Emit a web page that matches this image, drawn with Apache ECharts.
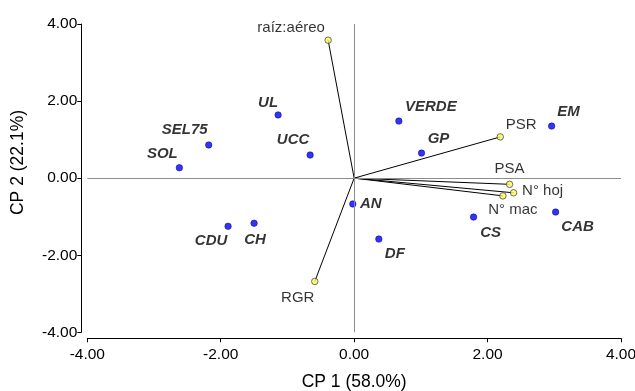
<!DOCTYPE html>
<html>
<head>
<meta charset="utf-8">
<script src="https://cdn.jsdelivr.net/npm/echarts@6/dist/echarts.min.js"></script>
<style>
  html, body { margin: 0; padding: 0; background: #ffffff; }
  #chart { width: 635px; height: 391px; }
</style>
</head>
<body>
<div id="chart"></div>
<script>
// Observation (genotype) scores on the first two principal components
const obsNames = ['SOL', 'SEL75', 'UL', 'UCC', 'VERDE', 'GP', 'EM', 'CDU', 'CH', 'AN', 'DF', 'CS', 'CAB'];
const obsCP1 = [-2.62, -2.18, -1.14, -0.66, 0.67, 1.01, 2.96, -1.89, -1.50, -0.02, 0.37, 1.79, 3.02];
const obsCP2 = [0.27, 0.86, 1.64, 0.60, 1.48, 0.65, 1.35, -1.25, -1.17, -0.67, -1.58, -1.01, -0.88];

// Variable loadings (drawn as vectors from the origin)
const varNames = ['raíz:aéreo', 'PSR', 'PSA', 'N° hoj', 'N° mac', 'RGR'];
const varCP1 = [-0.39, 2.19, 2.33, 2.39, 2.23, -0.59];
const varCP2 = [3.58, 1.07, -0.16, -0.38, -0.46, -2.68];

// Axis ticks
const axisTicks = [-4, -2, 0, 2, 4];

// Label placement (pixel offsets from each marker centre)
const labelOffsets = {
  'SOL': [-17, -14], 'SEL75': [-24, -15], 'UL': [-10, -12], 'UCC': [-17, -15],
  'VERDE': [32, -14], 'GP': [17, -14], 'EM': [17, -14],
  'CDU': [-17, 15], 'CH': [1, 17], 'AN': [18, 0], 'DF': [16, 15],
  'CS': [17, 16], 'CAB': [22, 15],
  'raíz:aéreo': [-37, -12], 'PSR': [21, -12], 'PSA': [0, -15],
  'N° hoj': [29, -2], 'N° mac': [10, 14], 'RGR': [-17, 16]
};

const FONT = 'Liberation Sans, Arial, Helvetica, sans-serif';

function scatterItems(names, xs, ys) {
  return names.map((n, i) => ({
    name: n,
    value: [xs[i], ys[i]],
    label: { offset: labelOffsets[n] || [0, 0] }
  }));
}

const vectorData = varNames.map((n, i) => ({ coords: [[0, 0], [varCP1[i], varCP2[i]]] }));

const tickFmt = v => (axisTicks.indexOf(v) >= 0 ? v.toFixed(2) : '');

const chart = echarts.init(document.getElementById('chart'), null, { renderer: 'canvas' });

chart.setOption({
  animation: false,
  backgroundColor: '#ffffff',
  grid: { left: 87.3, right: 14, top: 24, bottom: 58.7, containLabel: false, outerBoundsMode: 'none' },
  xAxis: {
    type: 'value', min: -4, max: 4, interval: 2, offset: 6,
    name: 'CP 1 (58.0%)', nameLocation: 'middle', nameGap: 35,
    nameTextStyle: { fontFamily: FONT, fontSize: 17.5, color: '#000' },
    axisLine: { show: true, onZero: false, lineStyle: { color: '#000', width: 1 } },
    axisTick: { show: true, inside: false, length: 4, lineStyle: { color: '#000' } },
    axisLabel: { formatter: tickFmt, margin: 8, fontFamily: FONT, fontSize: 15.5, color: '#000' },
    splitLine: { show: false }
  },
  yAxis: {
    type: 'value', min: -4, max: 4, interval: 2, offset: 6,
    axisLine: { show: true, onZero: false, lineStyle: { color: '#000', width: 1 } },
    axisTick: { show: true, inside: false, length: 4, lineStyle: { color: '#000' } },
    axisLabel: { formatter: tickFmt, margin: 4, fontFamily: FONT, fontSize: 15.5, color: '#000' },
    splitLine: { show: false }
  },
  graphic: [{
    type: 'text', x: 18, y: 162.5, rotation: Math.PI / 2,
    style: {
      text: 'CP 2 (22.1%)', fontFamily: FONT, fontSize: 17.5, fill: '#000',
      align: 'center', verticalAlign: 'middle'
    }
  }],
  series: [
    {
      // zero reference lines
      type: 'scatter', data: [], silent: true,
      markLine: {
        silent: true, symbol: 'none', label: { show: false },
        lineStyle: { color: '#8c8c8c', width: 1, type: 'solid' },
        data: [{ xAxis: 0 }, { yAxis: 0 }]
      }
    },
    {
      type: 'lines', coordinateSystem: 'cartesian2d', silent: true, z: 3,
      lineStyle: { color: '#000', width: 1, opacity: 1 },
      data: vectorData
    },
    {
      type: 'scatter', z: 4, symbol: 'circle', symbolSize: 6.5,
      itemStyle: { color: '#0000ff', borderColor: '#000060', borderWidth: 0.6 },
      label: {
        show: true, position: 'inside', align: 'center', verticalAlign: 'middle',
        formatter: p => p.name,
        fontFamily: FONT, fontSize: 15, fontWeight: 'bold', fontStyle: 'italic', color: '#000'
      },
      data: scatterItems(obsNames, obsCP1, obsCP2)
    },
    {
      type: 'scatter', z: 5, symbol: 'circle', symbolSize: 6.5,
      itemStyle: { color: '#fafa60', borderColor: '#222', borderWidth: 0.8 },
      label: {
        show: true, position: 'inside', align: 'center', verticalAlign: 'middle',
        formatter: p => p.name,
        fontFamily: FONT, fontSize: 15, color: '#000'
      },
      data: scatterItems(varNames, varCP1, varCP2)
    }
  ]
});
</script>
</body>
</html>
